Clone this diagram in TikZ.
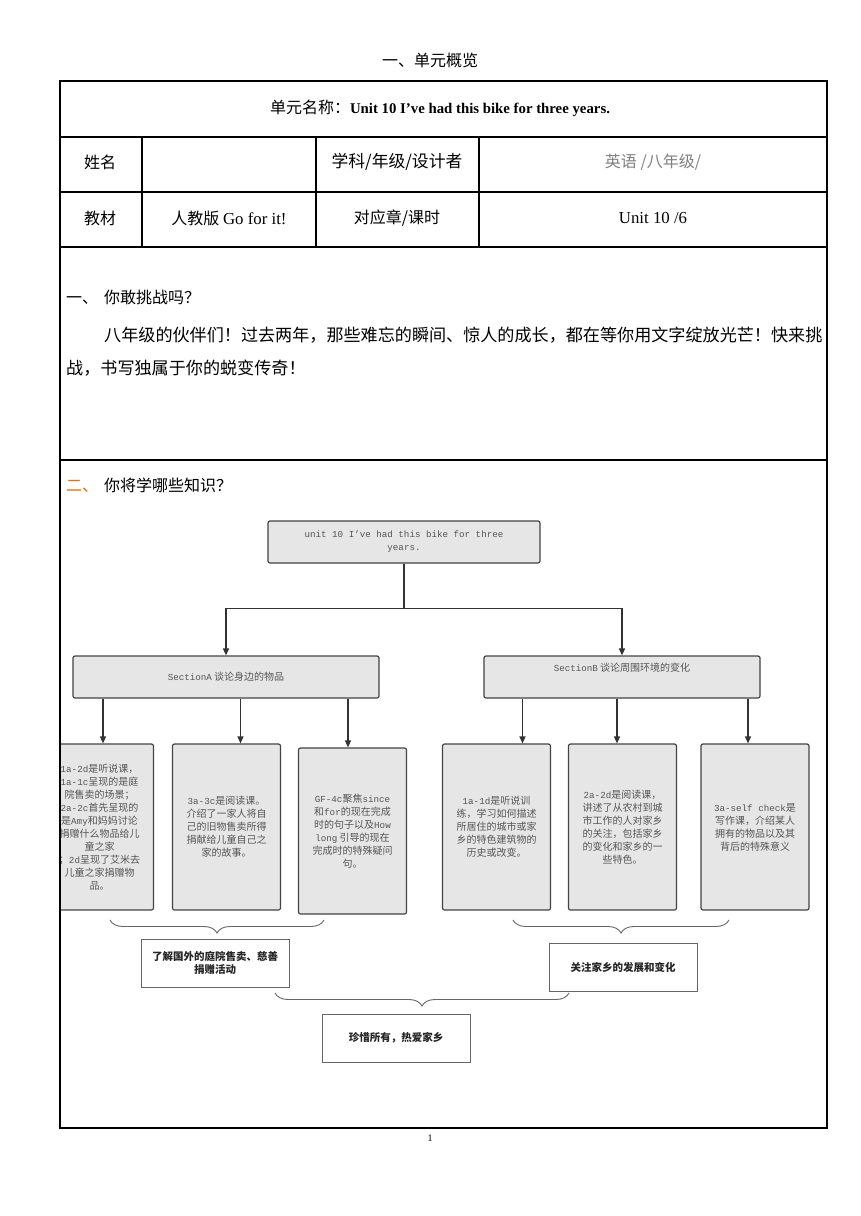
\documentclass[tikz,border=0pt]{standalone}
\usepackage{fontspec}
\setmainfont{Liberation Serif}
\newfontfamily\cjk{Noto Sans CJK SC}
\newfontfamily\boxmono{Liberation Mono}
\usetikzlibrary{arrows.meta,decorations.pathreplacing}
\definecolor{boxgray}{HTML}{E6E6E6}
\definecolor{boxline}{HTML}{444444}
\definecolor{textgray}{HTML}{555555}
\definecolor{headorange}{HTML}{E46C0A}
\newcommand{\lat}[1]{{\boxmono\fontsize{9.2}{13}\selectfont #1}}

\begin{document}
\begin{tikzpicture}[
  x=1pt, y=-1pt,
  topic/.style={rectangle, draw=boxline, fill=boxgray, rounded corners=2pt, line width=1.2pt,
    align=center, text=textgray, font=\cjk\fontsize{10}{13}\selectfont},
  lesson/.style={topic, minimum width=108pt, minimum height=166pt},
  summary/.style={rectangle, draw=black!60, fill=white, line width=0.9pt, minimum width=148pt,
    minimum height=48pt, align=center, text=black!85, font=\cjk\bfseries\fontsize{10.5}{13}\selectfont},
  flow/.style={draw=black!80, line width=1.2pt, -{Triangle[length=7pt,width=6pt]}},
  brace/.style={draw=black!60, line width=0.9pt, decorate, decoration={brace, amplitude=13pt}},
  cell/.style={inner sep=0pt, font=\cjk\fontsize{16}{16}\selectfont},
  line/.style={inner sep=0pt, anchor=west, font=\cjk\fontsize{17.1}{17}\selectfont},
  >=Stealth
]
\useasboundingbox (0,0) rectangle (860,1216);
\fill[white] (0,0) rectangle (860,1216);

% page head and table
\node[cell] (title) at (430,60) {一、单元概览};
\draw[line width=1.2pt] (60,81) rectangle (827,1128);
\draw[line width=1.2pt] (60,137) -- (827,137) (60,192) -- (827,192) (60,247) -- (827,247)
  (60,460) -- (827,460);
\draw[line width=1.2pt] (142,137) -- (142,247) (316,137) -- (316,247) (479,137) -- (479,247);

\node[inner sep=0pt] (unitname) at (440,108)
  {{\cjk\fontsize{16}{16}\selectfont 单元名称：}{\fontsize{14.8}{15}\selectfont\bfseries Unit 10 I’ve had this bike for three years.}};
\node[cell] (name) at (100,162) {姓名};
\node[cell, font=\cjk\fontsize{16.8}{16}\selectfont] (subject) at (397,162) {学科/年级/设计者};
\node[cell, text=black!50] (grade) at (653,162) {英语 /八年级/};
\node[cell] (book) at (100,218) {教材};
\node[cell] (edition) at (229,218) {人教版 {\rmfamily\fontsize{16.8}{16}\selectfont Go for it!}};
\node[cell] (chapter) at (397,218) {对应章/课时};
\node[cell, font=\fontsize{16.8}{16}\selectfont] (lessons) at (653,218) {Unit 10 /6};

% section one
\node[line, font=\cjk\fontsize{16}{16}\selectfont] (dare) at (66,297) {一、\hspace{6pt}你敢挑战吗？};
\node[line] (para1) at (104,335) {八年级的伙伴们！过去两年，那些难忘的瞬间、惊人的成长，都在等你用文字绽放光芒！快来挑};
\node[line] (para2) at (66,368) {战，书写独属于你的蜕变传奇！};

% section two
\node[line, font=\cjk\fontsize{16}{16}\selectfont] (learn) at (66,485)
  {\textcolor{headorange}{二、}\hspace{6pt}你将学哪些知识？};

% mind map
\node[topic, minimum width=272pt, minimum height=42pt] (unit) at (404,542)
  {\lat{unit 10 I’ve had this bike for three}\\\lat{years.}};
\node[topic, minimum width=306pt, minimum height=42pt] (secA) at (226,677)
  {\lat{SectionA} 谈论身边的物品};
\node[topic, minimum width=276pt, minimum height=42pt] (secB) at (622,677)
  {\lat{SectionB} 谈论周围环境的变化\\[6pt]};

\begin{scope}
  \clip (61,735) rectangle (170,920);
  \node[lesson] (a1) at (99.5,827) {\lat{1a-2d}是听说课，\\\lat{1a-1c}呈现的是庭\\院售卖的场景；\\
    \lat{2a-2c}首先呈现的\\是\lat{Amy}和妈妈讨论\\捐赠什么物品给儿\\童之家\\；\lat{2d}呈现了艾米去\\
    儿童之家捐赠物\\品。};
\end{scope}
\node[lesson] (a2) at (226.5,827) {\lat{3a-3c}是阅读课。\\介绍了一家人将自\\己的旧物售卖所得\\
  捐献给儿童自己之\\家的故事。};
\node[lesson] (a3) at (352.5,831) {\lat{GF-4c}聚焦\lat{since}\\和\lat{for}的现在完成\\时的句子以及\lat{How}\\
  \lat{long} 引导的现在\\完成时的特殊疑问\\句。};
\node[lesson] (b1) at (496.5,827) {\lat{1a-1d}是听说训\\练，学习如何描述\\所居住的城市或家\\
  乡的特色建筑物的\\历史或改变。};
\node[lesson] (b2) at (622.5,827) {\lat{2a-2d}是阅读课，\\讲述了从农村到城\\市工作的人对家乡\\
  的关注，包括家乡\\的变化和家乡的一\\些特色。};
\node[lesson] (b3) at (755,827) {\lat{3a-self check}是\\写作课，介绍某人\\拥有的物品以及其\\
  背后的特殊意义};

\draw[flow] (unit.south) -- ++(0,45) -| (secA.north);
\draw[flow] (unit.south) -- ++(0,45) -| (secB.north);

\draw[flow] ([xshift=3.5pt]a1.north |- secA.south) -- ([xshift=3.5pt]a1.north);
\draw[flow] ([xshift=14pt]a2.north |- secA.south) -- ([xshift=14pt]a2.north);
\draw[flow] ([xshift=-4.5pt]a3.north |- secA.south) -- ([xshift=-4.5pt]a3.north);
\draw[flow] ([xshift=26pt]b1.north |- secB.south) -- ([xshift=26pt]b1.north);
\draw[flow] ([xshift=-5.5pt]b2.north |- secB.south) -- ([xshift=-5.5pt]b2.north);
\draw[flow] ([xshift=-7pt]b3.north |- secB.south) -- ([xshift=-7pt]b3.north);

\node[summary] (sumA) at (215,963) {了解国外的庭院售卖、慈善\\捐赠活动};
\node[summary] (sumB) at (623,967.5) {关注家乡的发展和变化};
\node[summary] (sumC) at (396,1038) {珍惜所有，热爱家乡};

\coordinate (braceA) at (324,920);
\coordinate (braceB) at (729,920);
\coordinate (braceC) at (569,993);
\draw[brace] (braceA) -- (braceA -| 110,0);
\draw[brace] (braceB) -- (braceB -| 513,0);
\draw[brace] (braceC) -- (braceC -| 275,0);

\node[inner sep=0pt, font=\fontsize{10}{10}\selectfont] (page) at (430,1138) {1};
\end{tikzpicture}
\end{document}
